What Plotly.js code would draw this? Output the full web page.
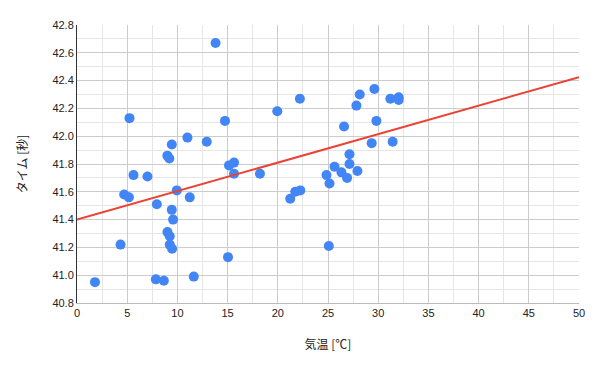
<!DOCTYPE html>
<html>
<head>
<meta charset="utf-8">
<script src="https://cdn.plot.ly/plotly-3.0.1.min.js"></script>
<style>html,body{margin:0;padding:0;background:#fff;}#chart{width:597px;height:369px;}</style>
</head>
<body>
<div id="chart"></div>
<script>
const temperature = [13.8, 5.23, 14.74, 11.0, 9.44, 12.92, 9.0, 9.2, 15.14, 15.64, 5.63, 7.02, 15.64, 4.7, 5.17, 9.94, 11.23, 7.95, 9.44, 9.57, 9.01, 9.24, 9.24, 9.47, 4.34, 15.04, 7.85, 8.65, 11.63, 1.79, 19.95, 22.2, 18.22, 21.24, 21.74, 22.24, 24.85, 25.15, 25.65, 26.34, 26.9, 27.14, 27.14, 27.93, 26.6, 27.83, 28.16, 29.62, 29.82, 29.35, 31.21, 32.04, 32.04, 31.44, 25.08];
const lapTime = [42.67, 42.13, 42.11, 41.99, 41.94, 41.96, 41.86, 41.84, 41.79, 41.81, 41.72, 41.71, 41.73, 41.58, 41.56, 41.61, 41.56, 41.51, 41.47, 41.40, 41.31, 41.28, 41.22, 41.19, 41.22, 41.13, 40.97, 40.96, 40.99, 40.95, 42.18, 42.27, 41.73, 41.55, 41.60, 41.61, 41.72, 41.66, 41.78, 41.74, 41.70, 41.87, 41.80, 41.75, 42.07, 42.22, 42.30, 42.34, 42.11, 41.95, 42.27, 42.28, 42.26, 41.96, 41.21];
const trendX = [0, 50];
const trendY = [41.40, 42.425];
const xTickVals = [0, 5, 10, 15, 20, 25, 30, 35, 40, 45, 50];
const yTickVals = [40.8, 41.0, 41.2, 41.4, 41.6, 41.8, 42.0, 42.2, 42.4, 42.6, 42.8];
const xTitle = '気温 [℃]';
const yTitle = 'タイム [秒]';

const tickFont = {family: '"Liberation Sans", Arial, sans-serif', size: 11, color: '#222'};
const titleFont = {family: '"Noto Sans CJK JP", "Liberation Sans", sans-serif', size: 12, color: '#222'};

const data = [
  {x: temperature, y: lapTime, type: 'scatter', mode: 'markers',
   marker: {color: '#4285F4', size: 10}, hoverinfo: 'none', cliponaxis: false},
  {x: trendX, y: trendY, type: 'scatter', mode: 'lines',
   line: {color: '#EA4335', width: 2}, hoverinfo: 'none'}
];
const layout = {
  width: 597, height: 369,
  margin: {l: 77, r: 18, t: 25, b: 66},
  paper_bgcolor: '#fff', plot_bgcolor: '#fff',
  showlegend: false,
  xaxis: {
    range: [0, 50], tickvals: xTickVals, ticks: '',
    showgrid: true, gridcolor: '#cccccc', gridwidth: 1,
    minor: {dtick: 2.5, tick0: 0, showgrid: true, gridcolor: '#e6e6e6', gridwidth: 1},
    zeroline: false, showline: true, linecolor: '#bbbbbb', linewidth: 1,
    tickfont: tickFont,
    title: {text: xTitle, font: titleFont, standoff: 22}
  },
  yaxis: {
    range: [40.8, 42.8], tickvals: yTickVals, tickformat: '.1f', ticks: '',
    showgrid: true, gridcolor: '#cccccc', gridwidth: 1,
    minor: {dtick: 0.1, tick0: 40.8, showgrid: true, gridcolor: '#e6e6e6', gridwidth: 1},
    zeroline: false, showline: true, linecolor: '#333333', linewidth: 1,
    tickfont: tickFont,
    title: {text: yTitle, font: titleFont, standoff: 22}
  }
};
Plotly.newPlot('chart', data, layout, {staticPlot: true, displayModeBar: false});
</script>
</body>
</html>
